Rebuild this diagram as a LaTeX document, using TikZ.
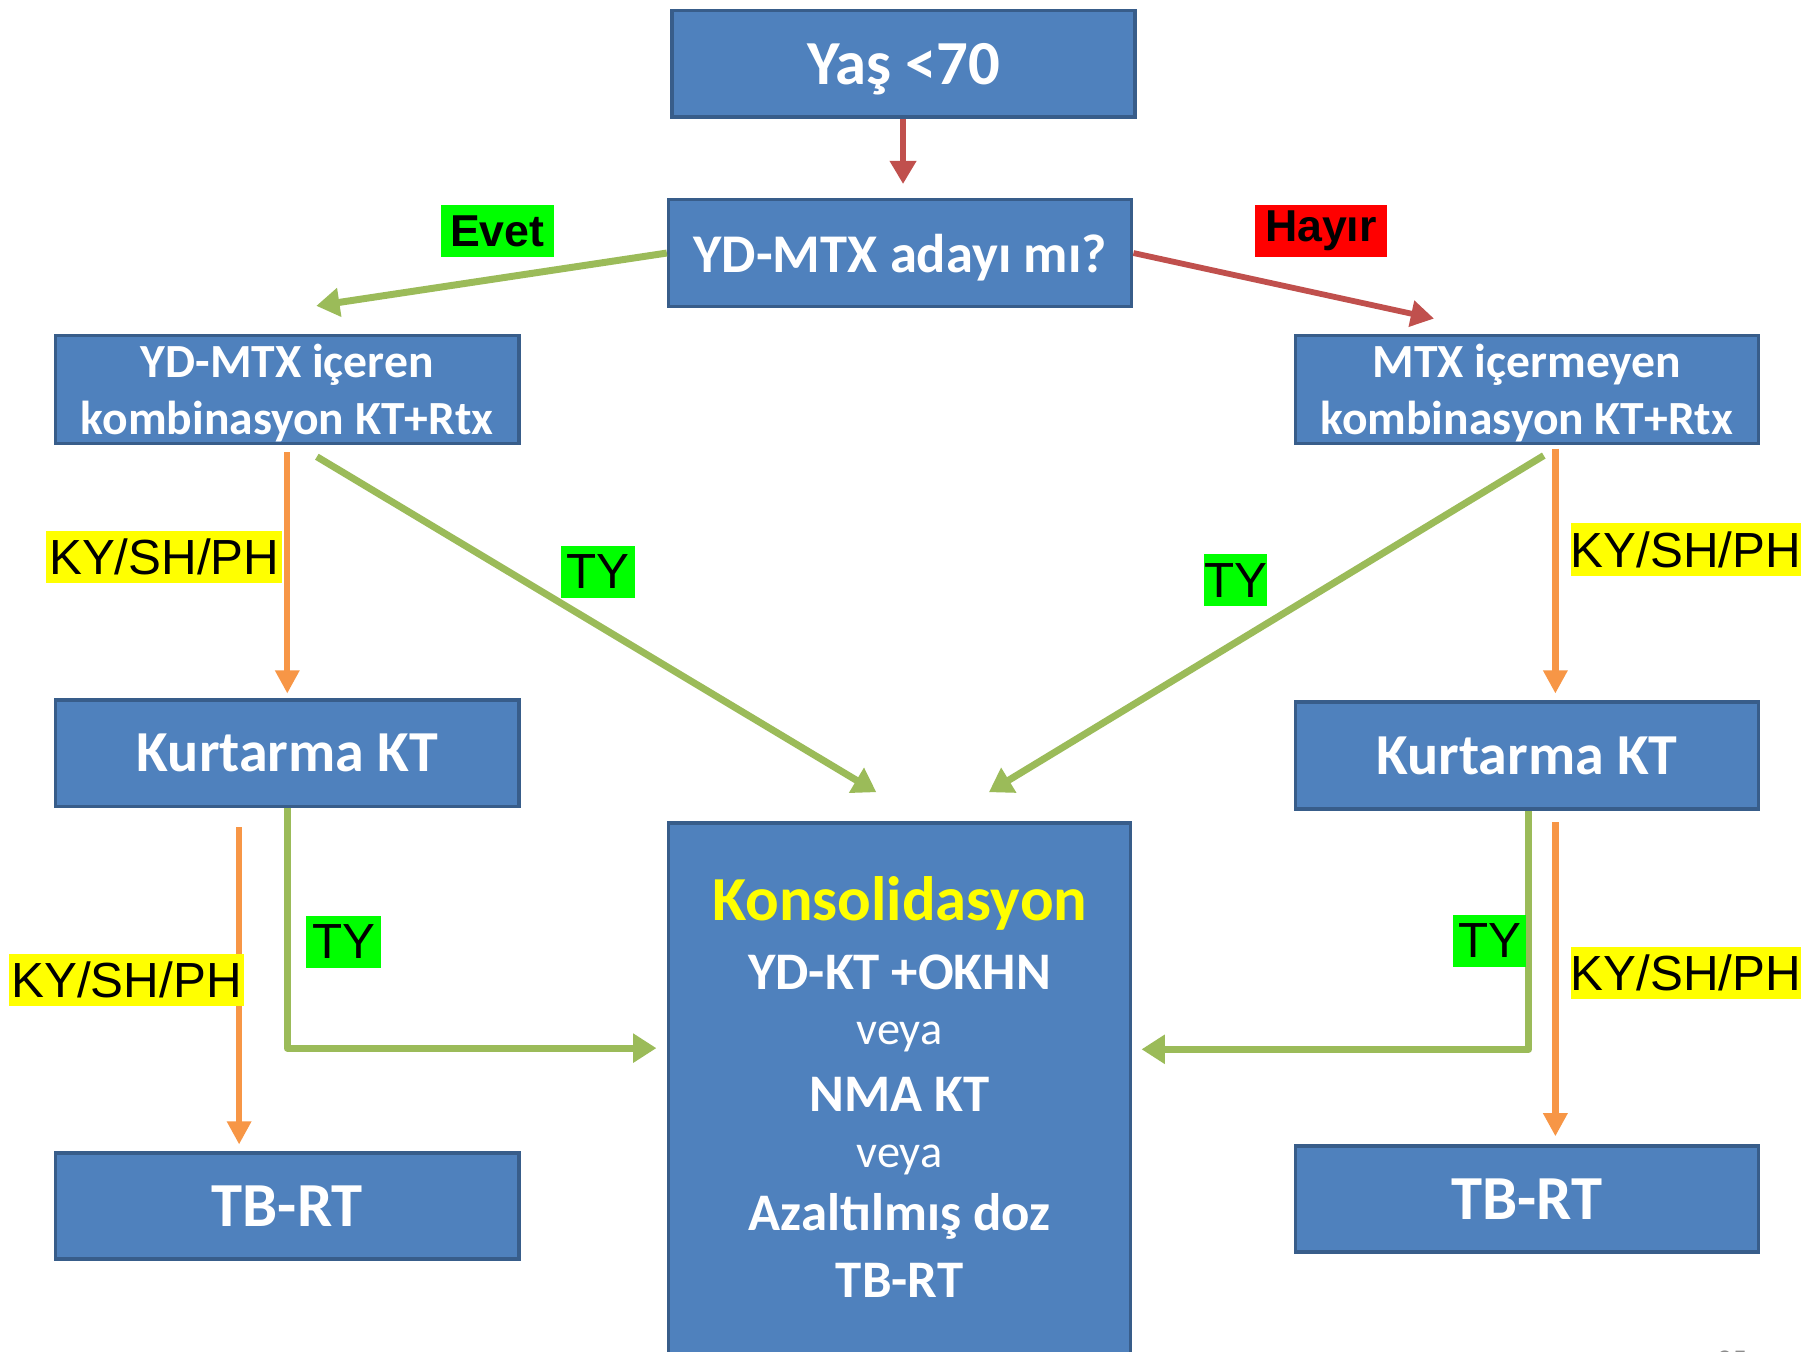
\documentclass[tikz,border=0pt]{standalone}
\usepackage{fontspec}
\setmainfont{Carlito}
\newfontfamily\arialf{Liberation Sans}
\usetikzlibrary{arrows.meta,calc}
\definecolor{boxfill}{HTML}{4F81BD}
\definecolor{boxline}{HTML}{385D8A}
\definecolor{arrred}{HTML}{C0504D}
\definecolor{arrgreen}{HTML}{9BBB59}
\definecolor{arrorange}{HTML}{F79646}
\definecolor{lblgreen}{HTML}{00FF00}
\definecolor{lblyellow}{HTML}{FFFF00}
\definecolor{lblred}{HTML}{FF0000}
\definecolor{pagegray}{HTML}{8C8C8C}
\begin{document}
\begin{tikzpicture}[x=1pt,y=-1pt,
  box/.style={draw=boxline,fill=boxfill,line width=3pt,text=white,inner sep=0pt,
    minimum width=399pt,minimum height=92pt,align=center},
  bigtxt/.style={font=\bfseries\fontsize{54}{58}\selectfont},
  midtxt/.style={font=\bfseries\fontsize{47}{50}\selectfont},
  kurtxt/.style={font=\bfseries\fontsize{50}{52}\selectfont},
  tbtxt/.style={font=\bfseries\fontsize{54}{56}\selectfont},
  twotxt/.style={font=\bfseries\fontsize{41}{49}\selectfont},
  ktxt/.style={text=white,inner sep=0pt,font=\bfseries\fontsize{45.5}{48}\selectfont},
  kreg/.style={text=white,inner sep=0pt,font=\fontsize{40}{44}\selectfont},
  lbl/.style={inner sep=0pt,text=black,minimum height=45pt,font=\arialf\fontsize{42.5}{42.5}\selectfont},
  lblb/.style={inner sep=0pt,text=black,minimum height=44pt,font=\arialf\bfseries\fontsize{38.5}{38.5}\selectfont},
  redarr/.style={draw=arrred,line width=5pt,-{Triangle[width=22pt,length=20pt]}},
  grnarr/.style={draw=arrgreen,line width=6pt,-{Triangle[width=24pt,length=20pt]}},
  orarr/.style={draw=arrorange,line width=5.5pt,-{Triangle[width=20pt,length=20pt]}},
]
\useasboundingbox (0,0) rectangle (1568,1164);
\fill[white] (0,0) rectangle (1568,1164);

% boxes
\node[box,bigtxt,text depth=0pt] (yas) at (778.5,55) {Yaş <70};
\node[box,midtxt,text depth=0pt] (q) at (775.5,218) {YD-MTX adayı mı?};
\node[box,twotxt,minimum height=93pt,text depth=0pt] (lc) at (247.5,335.5) {YD-MTX içeren\\kombinasyon KT+Rtx};
\node[box,twotxt,minimum height=93pt,text depth=0pt] (rc) at (1315.5,335.5) {MTX içermeyen\\kombinasyon KT+Rtx};
\node[box,kurtxt] (lk) at (247.5,649) {Kurtarma KT};
\node[box,kurtxt] (rk) at (1315.5,651) {Kurtarma KT};
\node[box,tbtxt,minimum height=91pt] (lt) at (247.5,1039) {TB-RT};
\node[box,tbtxt,minimum height=91pt] (rt) at (1315.5,1033) {TB-RT};
\node[box,minimum width=398pt,minimum height=458pt] (kons) at (775,938) {};

% consolidation text
\node[ktxt,text=lblyellow,font=\bfseries\fontsize{54}{56}\selectfont] (k1) at (775,778) {Konsolidasyon};
\node[ktxt] (k2) at (775,838) {YD-KT +OKHN};
\node[kreg] (k3) at (775,893) {veya};
\node[ktxt] (k4) at (775,943) {NMA KT};
\node[kreg] (k5) at (775,999) {veya};
\node[ktxt] (k6) at (775,1048) {Azaltılmış doz};
\node[ktxt] (k7) at (775,1103) {TB-RT};

% connectors
\draw[redarr] ([xshift=-0.5pt]yas.south) -- ([xshift=2.5pt,yshift=12pt]q.north);
\coordinate (evtip) at ($(lc.north)+(25,-24)$);
\draw[grnarr] (q.west) -- (evtip);
\coordinate (hytip) at ($(rc.north)+(-80,-13)$);
\draw[redarr] (q.east) -- (hytip);

\draw[orarr] ([yshift=-6pt]lc.south) -- ([yshift=4pt]lk.north);
\draw[grnarr] ([xshift=25.5pt,yshift=-10pt]lc.south) -- ([xshift=-20pt,yshift=25pt]kons.north);
\draw[grnarr] ([xshift=14.5pt,yshift=-9pt]rc.south) -- ([xshift=77pt,yshift=25pt]kons.north);
\draw[orarr] ([xshift=24.5pt,yshift=-3pt]rc.south) -- ([xshift=24.5pt,yshift=6pt]rk.north);

\draw[orarr] ([xshift=-41.5pt,yshift=-16pt]lk.south) -- ([xshift=-41.5pt,yshift=6pt]lt.north);
\draw[grnarr,line join=round] (lk.south) |- ([xshift=-9pt,yshift=35pt]kons.west);
\draw[grnarr,line join=round] ([xshift=1.5pt]rk.south) |- ([xshift=8pt,yshift=34pt]kons.east);
\draw[orarr] ([xshift=24.5pt,yshift=-10pt]rk.south) -- ([xshift=24.5pt,yshift=7pt]rt.north);

% labels
\node[lblb,fill=lblgreen,minimum width=97pt] (evet) at (428.5,199) {Evet};
\node[lblb,fill=lblred,minimum width=114pt] (hayir) at (1138,199) {Hayır};
\node[lbl,fill=lblyellow,minimum width=203pt] (l1) at (141.5,480) {KY/SH/PH};
\node[lbl,fill=lblgreen,minimum width=64pt] (t1) at (515,492.5) {TY};
\node[lbl,fill=lblgreen,minimum width=53pt] (t2) at (1064.5,500) {TY};
\node[lbl,fill=lblyellow,minimum width=195pt] (l2) at (1452.5,473.5) {KY/SH/PH};
\node[lbl,fill=lblyellow,minimum width=202pt] (l3) at (109,844.5) {KY/SH/PH};
\node[lbl,fill=lblgreen,minimum width=64pt] (t3) at (296,811.5) {TY};
\node[lbl,fill=lblgreen,minimum width=63pt] (t4) at (1283.5,810.5) {TY};
\node[lbl,fill=lblyellow,minimum width=195pt] (l4) at (1452.5,838.5) {KY/SH/PH};

% page number (cut off at the bottom edge, as in the reference)
\node[text=pagegray,inner sep=0pt,font=\fontsize{26}{26}\selectfont] (pg) at (1492,1172) {35};
\end{tikzpicture}
\end{document}
